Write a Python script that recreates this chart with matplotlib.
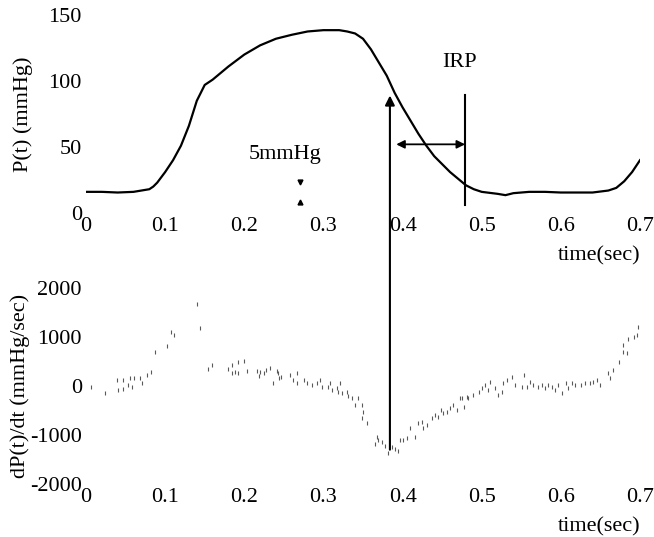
import matplotlib
matplotlib.use('Agg')
import matplotlib.pyplot as plt
from matplotlib.patches import ConnectionPatch

plt.rcParams['font.family'] = ['Liberation Serif', 'DejaVu Serif']
plt.rcParams['axes.unicode_minus'] = False

# pressure trace
time_p = [0, 0.02, 0.04, 0.06, 0.08, 0.085, 0.09, 0.10, 0.11, 0.12, 0.13, 0.14, 0.15,
          0.16, 0.17, 0.18, 0.20, 0.22, 0.24, 0.26, 0.28, 0.30, 0.32, 0.33, 0.34, 0.35,
          0.36, 0.37, 0.38, 0.39, 0.40, 0.41, 0.42, 0.43, 0.44, 0.45, 0.46, 0.47, 0.48,
          0.49, 0.50, 0.52, 0.53, 0.54, 0.56, 0.58, 0.60, 0.62, 0.64, 0.66, 0.67, 0.68,
          0.69, 0.70]
pressure = [16, 16, 15.5, 16, 18, 20, 23, 31, 40, 51, 66, 85, 97,
            101, 106, 111, 120, 127, 132, 135, 137.5, 138.5, 138.5, 137.5, 136, 132,
            124, 114, 104, 91, 80, 70, 60, 51, 43, 37, 31, 26, 21,
            18, 16, 14.5, 13.5, 15, 16, 16, 15.5, 15.5, 15.5, 17, 19, 24,
            31, 40]

# dP/dt samples
time_d = [0.006, 0.024, 0.039, 0.040, 0.047, 0.047, 0.053, 0.056, 0.058, 0.061, 0.068,
          0.071, 0.077, 0.082, 0.087, 0.102, 0.108, 0.111, 0.140, 0.144, 0.154, 0.159,
          0.180, 0.184, 0.184, 0.188, 0.192, 0.192, 0.200, 0.203, 0.216, 0.218, 0.220,
          0.225, 0.228, 0.233, 0.236, 0.241, 0.244, 0.243, 0.247, 0.258, 0.262, 0.267,
          0.267, 0.275, 0.279, 0.285, 0.292, 0.296, 0.298, 0.306, 0.308, 0.311, 0.317,
          0.319, 0.321, 0.323, 0.330, 0.331, 0.336, 0.340, 0.344, 0.349, 0.350, 0.349,
          0.355, 0.368, 0.369, 0.365, 0.374, 0.378, 0.382, 0.387, 0.391, 0.394, 0.397,
          0.401, 0.406, 0.410, 0.416, 0.420, 0.425, 0.426, 0.431, 0.437, 0.441, 0.445,
          0.448, 0.451, 0.456, 0.460, 0.464, 0.469, 0.473, 0.477, 0.481, 0.475, 0.483,
          0.489, 0.496, 0.500, 0.504, 0.508, 0.511, 0.517, 0.521, 0.526, 0.527, 0.532,
          0.538, 0.542, 0.551, 0.553, 0.557, 0.561, 0.565, 0.571, 0.576, 0.580, 0.584,
          0.589, 0.593, 0.597, 0.602, 0.606, 0.609, 0.614, 0.618, 0.625, 0.631, 0.637,
          0.641, 0.646, 0.650, 0.660, 0.662, 0.666, 0.673, 0.678, 0.679, 0.684, 0.685,
          0.692, 0.696, 0.698]
dpdt = [-20, -145, 125, -80, -60, 125, 20, 165, -20, 165, 165,
        60, 225, 290, 700, 825, 1110, 1050, 1670, 1175, 350, 430,
        350, 430, 270, 290, 495, 270, 515, 310, 310, 205, 290,
        270, 330, 370, 60, 310, 165, 270, 185, 225, 125, 270,
        60, 125, 60, 20, 60, 125, -20, -20, 60, -80, -40,
        -125, 60, -145, -125, -205, -250, -390, -250, -390, -535, -660,
        -760, -1050, -1110, -1175, -1150, -1215, -1360, -1255, -1280, -1320, -1110,
        -1110, -1070, -865, -1050, -760, -740, -865, -800, -660, -600, -640,
        -495, -555, -535, -455, -390, -495, -250, -430, -225, -250, -250,
        -185, -125, -40, 20, -80, 80, -40, -185, -125, 60, 125,
        185, 20, -20, 225, -20, 80, 20, -20, 20, -40, 20,
        -20, -80, 20, -145, 60, -40, 60, 20, 20, 60, 60,
        80, 125, 20, 270, 165, 330, 495, 700, 845, 680, 950,
        990, 1050, 1195]

x_ticks = [0, 0.1, 0.2, 0.3, 0.4, 0.5, 0.6, 0.7]
x_labels = ['0', '0.1', '0.2', '0.3', '0.4', '0.5', '0.6', '0.7']
p_ticks = [0, 50, 100, 150]
d_ticks = [-2000, -1000, 0, 1000, 2000]

fig = plt.figure(figsize=(6.54, 5.37), dpi=100)
ax1 = fig.add_axes([0.1315, 0.6034, 0.8471, 0.3687])
ax2 = fig.add_axes([0.1315, 0.0987, 0.8471, 0.3650])

fs = 16
for ax in (ax1, ax2):
    for s in ax.spines.values():
        s.set_visible(False)
    ax.set_xlim(0, 0.7)
    ax.set_xticks(x_ticks)
    ax.set_xticklabels(x_labels)
    ax.tick_params(length=0, labelsize=fs, pad=3)
    ax.tick_params(axis='x', pad=3)
    ax.set_xlabel('time(sec)', fontsize=fs, loc='right', labelpad=7)

ax1.plot(time_p, pressure, color='black', lw=1.6)
ax1.set_ylim(0, 150)
ax1.set_yticks(p_ticks)
ax1.set_ylabel('P(t) (mmHg)', fontsize=fs)
ax1.yaxis.set_label_coords(-0.096, 0.5)

ax2.plot(time_d, dpdt, linestyle='none', marker='|', markersize=3,
         markeredgewidth=0.8, color='0.35')
ax2.set_ylim(-2000, 2000)
ax2.set_yticks(d_ticks)
ax2.set_ylabel('dP(t)/dt (mmHg/sec)', fontsize=fs)
ax2.yaxis.set_label_coords(-0.101, 0.5)

# annotations
t_peak = 0.384
t_irp = 0.479
ax1.plot([t_irp, t_irp], [6, 89], color='black', lw=1.5)
ax1.annotate('', xy=(0.392, 52), xytext=(t_irp, 52),
             arrowprops=dict(arrowstyle='<|-|>', color='black', lw=1.3,
                             mutation_scale=12, shrinkA=0, shrinkB=0))
ax1.text(0.472, 114, 'IRP', fontsize=fs, ha='center', va='center')
ax1.text(0.252, 44, '5mmHg', fontsize=fs, ha='center', va='center')
ax1.plot([0.27], [23.5], marker='v', color='black', markersize=3.5)
ax1.plot([0.27], [8.5], marker='^', color='black', markersize=3.5)

arrow = ConnectionPatch(xyA=(t_peak, -1300), coordsA=ax2.transData,
                        xyB=(t_peak, 89), coordsB=ax1.transData,
                        arrowstyle='-|>', color='black', lw=1.5,
                        mutation_scale=14, shrinkA=0, shrinkB=0)
fig.add_artist(arrow)

fig.savefig('out.png', dpi=100)
